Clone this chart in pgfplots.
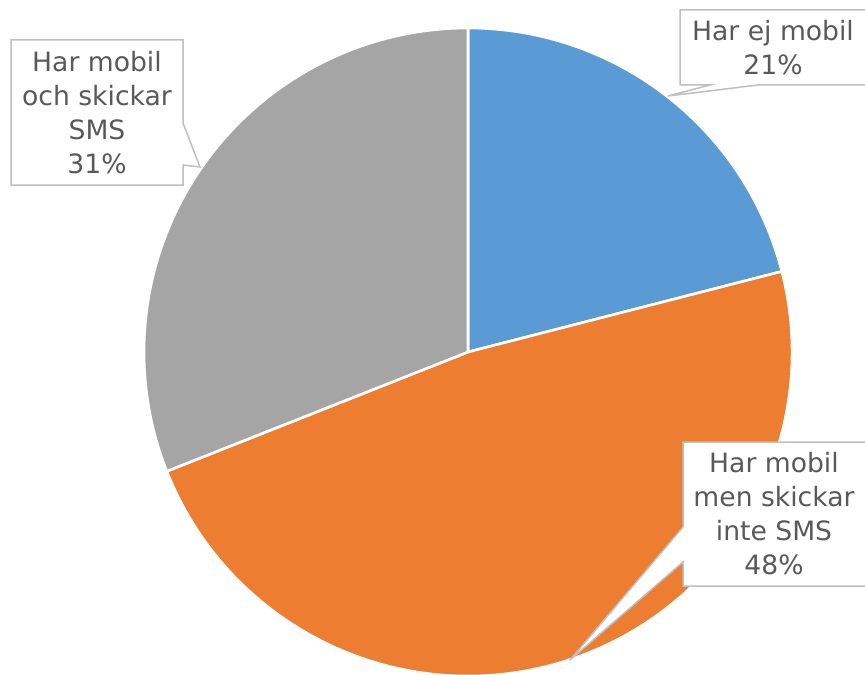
\documentclass[border=0pt]{standalone}
\usepackage{pgfplots}
\usepackage{pgfplotstable}
\usepackage{fontspec}
\pgfplotsset{compat=1.18}
\setmainfont{DejaVu Sans}

\definecolor{sblue}{HTML}{5B9BD5}
\definecolor{sorange}{HTML}{ED7D31}
\definecolor{sgrey}{HTML}{A5A5A5}
\definecolor{txt}{HTML}{595959}
\definecolor{frame}{HTML}{BFBFBF}

% shares in percent, clockwise from 12 o'clock
\pgfplotstableread{
idx value
0 21
1 48
2 31
}\piedata

\begin{document}
\begin{tikzpicture}
\begin{axis}[
    scale only axis,
    width=432.5pt, height=337pt,
    xmin=0, xmax=865, ymin=0, ymax=674,
    y dir=reverse,
    hide axis,
]
\pgfplotstablegetelem{0}{value}\of\piedata \let\va\pgfplotsretval
\pgfplotstablegetelem{1}{value}\of\piedata \let\vb\pgfplotsretval
\pgfplotstablegetelem{2}{value}\of\piedata \let\vc\pgfplotsretval
\pgfmathsetmacro\aA{90-3.6*\va}
\pgfmathsetmacro\aB{\aA-3.6*\vb}
\pgfmathsetmacro\aC{\aB-3.6*\vc}
\pgfmathsetmacro\xA{468+324*cos(\aA)}\pgfmathsetmacro\yA{352-324*sin(\aA)}
\pgfmathsetmacro\xB{468+324*cos(\aB)}\pgfmathsetmacro\yB{352-324*sin(\aB)}

\fill[sblue, draw=white, line width=1.3pt]
  (axis cs:468,352) -- (axis cs:468,28) arc[start angle=90, end angle=\aA, radius=162pt] -- cycle;
\fill[sorange, draw=white, line width=1.3pt]
  (axis cs:468,352) -- (axis cs:\xA,\yA) arc[start angle=\aA, end angle=\aB, radius=162pt] -- cycle;
\fill[sgrey, draw=white, line width=1.3pt]
  (axis cs:468,352) -- (axis cs:\xB,\yB) arc[start angle=\aB, end angle=\aC, radius=162pt] -- cycle;

\tikzset{callout/.style={fill=white, draw=frame, line width=0.75pt}}
\tikzset{lbl/.style={text=txt, align=center, font=\fontsize{13.3}{17}\selectfont}}

\filldraw[callout] (axis cs:680,10) -- (axis cs:870,10) -- (axis cs:870,85) -- (axis cs:758,85)
  -- (axis cs:668,96) -- (axis cs:710,85) -- (axis cs:680,85) -- cycle;
\filldraw[callout] (axis cs:11,40) -- (axis cs:183,40) -- (axis cs:183,123) -- (axis cs:200,167)
  -- (axis cs:183,165) -- (axis cs:183,185) -- (axis cs:11,185) -- cycle;
\filldraw[callout] (axis cs:683,442) -- (axis cs:870,442) -- (axis cs:870,586) -- (axis cs:683,586)
  -- (axis cs:683,562) -- (axis cs:570,660) -- (axis cs:683,527) -- cycle;

\node[lbl] at (axis cs:773,48) {Har ej mobil\\21\%};
\node[lbl] at (axis cs:97,113) {Har mobil\\och skickar\\SMS\\31\%};
\node[lbl] at (axis cs:774,514) {Har mobil\\men skickar\\inte SMS\\48\%};
\end{axis}
\pgfresetboundingbox
\useasboundingbox (current axis.south west) rectangle (current axis.north east);
\end{tikzpicture}
\end{document}
